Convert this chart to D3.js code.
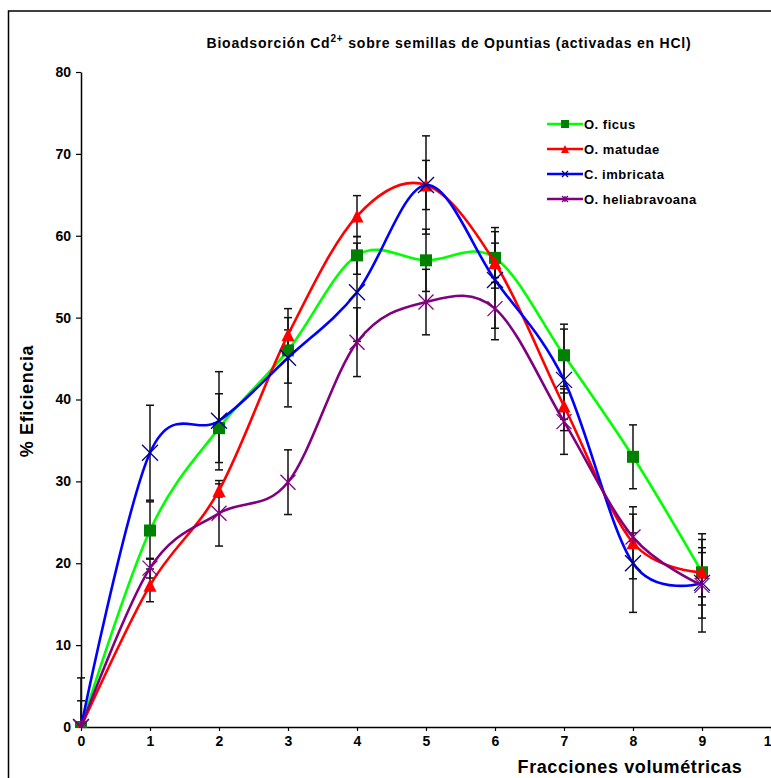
<!DOCTYPE html>
<html>
<head>
<meta charset="utf-8">
<script src="https://cdn.jsdelivr.net/npm/d3@7"></script>
<style>
  body { margin: 0; background: #fff; }
  svg { display: block; font-family: "Liberation Sans", Arial, sans-serif; }
</style>
</head>
<body>
<div id="chart"></div>
<script>
const width = 771;
const height = 778;

// data
const fractions = [0, 1, 2, 3, 4, 5, 6, 7, 8, 9];
const xTicks = [0, 1, 2, 3, 4, 5, 6, 7, 8, 9, 10];
const yTicks = [0, 10, 20, 30, 40, 50, 60, 70, 80];

const seriesNames = ["O. ficus", "O. matudae", "C. imbricata", "O. heliabravoana"];

const ficus = [0, 24.0, 36.5, 46.0, 57.6, 57.0, 57.3, 45.4, 33.0, 18.9];
const matudae = [0, 17.3, 28.9, 47.9, 62.4, 66.2, 56.7, 39.2, 22.5, 18.9];
const imbricata = [0, 33.5, 37.4, 45.1, 53.1, 66.2, 54.6, 42.4, 20.0, 17.6];
const heliabravoana = [0, 19.4, 26.1, 29.9, 47.0, 51.9, 51.1, 37.3, 23.2, 17.3];

const ficusErr = [3.2, 3.5, 4.2, 4.0, 2.3, 3.8, 3.7, 3.8, 3.9, 4.0];
const matudaeErr = [0, 2.0, 0.8, 0.6, 2.5, 3.0, 2.4, 1.6, 4.4, 3.0];
const imbricataErr = [6.0, 5.8, 6.0, 6.0, 6.0, 6.0, 5.9, 6.2, 6.0, 6.0];
const heliabravoanaErr = [0, 1.2, 4.0, 3.95, 4.2, 4.0, 3.8, 4.0, 0.5, 4.0];

const lineColors = ["#00ff00", "#ff0000", "#0000ff", "#800080"];
const markerColors = ["#008000", "#ff0000", "#000080", "#800080"];
const markerTypes = ["square", "triangle", "x", "star"];

const series = [ficus, matudae, imbricata, heliabravoana].map((vals, i) => ({
  name: seriesNames[i],
  errs: [ficusErr, matudaeErr, imbricataErr, heliabravoanaErr][i],
  points: vals.map((v, j) => ({ x: fractions[j], y: v })),
  line: lineColors[i],
  marker: markerColors[i],
  type: markerTypes[i],
}));

const x = d3.scaleLinear().domain([0, 10]).range([81, 771]);
const y = d3.scaleLinear().domain([0, 80]).range([727, 72]);

const svg = d3
  .select("#chart")
  .append("svg")
  .attr("width", width)
  .attr("height", height);

svg.append("rect").attr("width", width).attr("height", height).attr("fill", "#fff");

// chart border (only the left and top show in the picture)
svg
  .append("path")
  .attr("d", "M8.5,778 L8.5,11 L771,11")
  .attr("fill", "none")
  .attr("stroke", "#000")
  .attr("stroke-width", 1.5);

svg
  .append("clipPath")
  .attr("id", "plot-clip")
  .append("rect")
  .attr("x", 72)
  .attr("y", 60)
  .attr("width", 700)
  .attr("height", 668);

// axes
const xAxis = svg
  .append("g")
  .attr("transform", `translate(0,${y(0)})`)
  .call(d3.axisBottom(x).tickValues(xTicks).tickFormat(d3.format("d")).tickSizeInner(4).tickSizeOuter(0).tickPadding(5));

const yAxis = svg
  .append("g")
  .attr("transform", `translate(${x(0)},0)`)
  .call(d3.axisLeft(y).tickValues(yTicks).tickSizeInner(5).tickSizeOuter(0).tickPadding(5));

[xAxis, yAxis].forEach((g) => {
  g.select(".domain").attr("stroke", "#000").attr("stroke-width", 1.5);
  g.selectAll(".tick line").attr("stroke", "#000").attr("stroke-width", 1.2);
  g.selectAll(".tick text")
    .attr("fill", "#000")
    .style("font-size", "14px")
    .style("font-weight", "bold")
    .style("font-family", "Liberation Sans, Arial, sans-serif");
});

const plot = svg.append("g").attr("clip-path", "url(#plot-clip)");

// error bars
const capW = 4;
series.forEach((s) => {
  const g = plot.append("g").attr("stroke", "#111").attr("stroke-width", 1.5);
  s.points.forEach((p, j) => {
    const e = s.errs[j];
    if (!e) return;
    const cx = x(p.x);
    const y1 = y(p.y + e);
    const y2 = y(p.y - e);
    g.append("line").attr("x1", cx).attr("x2", cx).attr("y1", y1).attr("y2", y2);
    g.append("line").attr("x1", cx - capW).attr("x2", cx + capW).attr("y1", y1).attr("y2", y1);
    g.append("line").attr("x1", cx - capW).attr("x2", cx + capW).attr("y1", y2).attr("y2", y2);
  });
});

const line = d3
  .line()
  .x((d) => x(d.x))
  .y((d) => y(d.y))
  .curve(d3.curveCardinal.tension(0));

function drawMarker(g, type, color, cx, cy, size) {
  const h = size / 2;
  if (type === "square") {
    g.append("rect")
      .attr("x", cx - h).attr("y", cy - h)
      .attr("width", size).attr("height", size)
      .attr("fill", color);
  } else if (type === "triangle") {
    g.append("path")
      .attr("d", `M${cx},${cy - h} L${cx + h},${cy + h} L${cx - h},${cy + h} Z`)
      .attr("fill", color);
  } else if (type === "x") {
    g.append("path")
      .attr("d", `M${cx - h},${cy - h} L${cx + h},${cy + h} M${cx - h},${cy + h} L${cx + h},${cy - h}`)
      .attr("stroke", color)
      .attr("stroke-width", 1.3)
      .attr("fill", "none");
  } else {
    g.append("path")
      .attr("d", `M${cx - h},${cy - h} L${cx + h},${cy + h} M${cx - h},${cy + h} L${cx + h},${cy - h} M${cx},${cy - h} L${cx},${cy + h}`)
      .attr("stroke", color)
      .attr("stroke-width", 1.3)
      .attr("fill", "none");
  }
}

const markerSize = { square: 12, triangle: 13, x: 16, star: 15 };

series.forEach((s) => {
  plot
    .append("path")
    .datum(s.points)
    .attr("d", line)
    .attr("fill", "none")
    .attr("stroke", s.line)
    .attr("stroke-width", 2.6);
  const mg = plot.append("g");
  s.points.forEach((p) => drawMarker(mg, s.type, s.marker, x(p.x), y(p.y), markerSize[s.type]));
});

// title
const title = svg
  .append("text")
  .attr("x", 449)
  .attr("y", 48)
  .attr("text-anchor", "middle")
  .style("font-size", "14px")
  .style("font-weight", "bold")
  .style("letter-spacing", "0.8px");
title.append("tspan").text("Bioadsorción Cd");
title.append("tspan").attr("dy", -6).style("font-size", "10px").text("2+");
title.append("tspan").attr("dy", 6).text(" sobre semillas de Opuntias (activadas en HCl)");

// axis titles
svg
  .append("text")
  .attr("transform", "translate(33,401) rotate(-90)")
  .attr("text-anchor", "middle")
  .style("font-size", "18px")
  .style("font-weight", "bold")
  .style("letter-spacing", "0.6px")
  .text("% Eficiencia");

svg
  .append("text")
  .attr("x", 630)
  .attr("y", 773)
  .attr("text-anchor", "middle")
  .style("font-size", "18px")
  .style("font-weight", "bold")
  .style("letter-spacing", "0.6px")
  .text("Fracciones volumétricas");

// legend
const legendX = 547;
const legendY = 124;
const legendStep = 25;
const legend = svg.append("g");
series.forEach((s, i) => {
  const ly = legendY + i * legendStep;
  legend
    .append("line")
    .attr("x1", legendX)
    .attr("x2", legendX + 36)
    .attr("y1", ly)
    .attr("y2", ly)
    .attr("stroke", s.line)
    .attr("stroke-width", 2.6);
  drawMarker(legend, s.type, s.marker, legendX + 18, ly, s.type === "x" || s.type === "star" ? 6 : 8);
  legend
    .append("text")
    .attr("x", legendX + 37)
    .attr("y", ly + 4.5)
    .style("font-size", "13px")
    .style("font-weight", "bold")
    .style("letter-spacing", "0.5px")
    .text(s.name);
});
</script>
</body>
</html>
